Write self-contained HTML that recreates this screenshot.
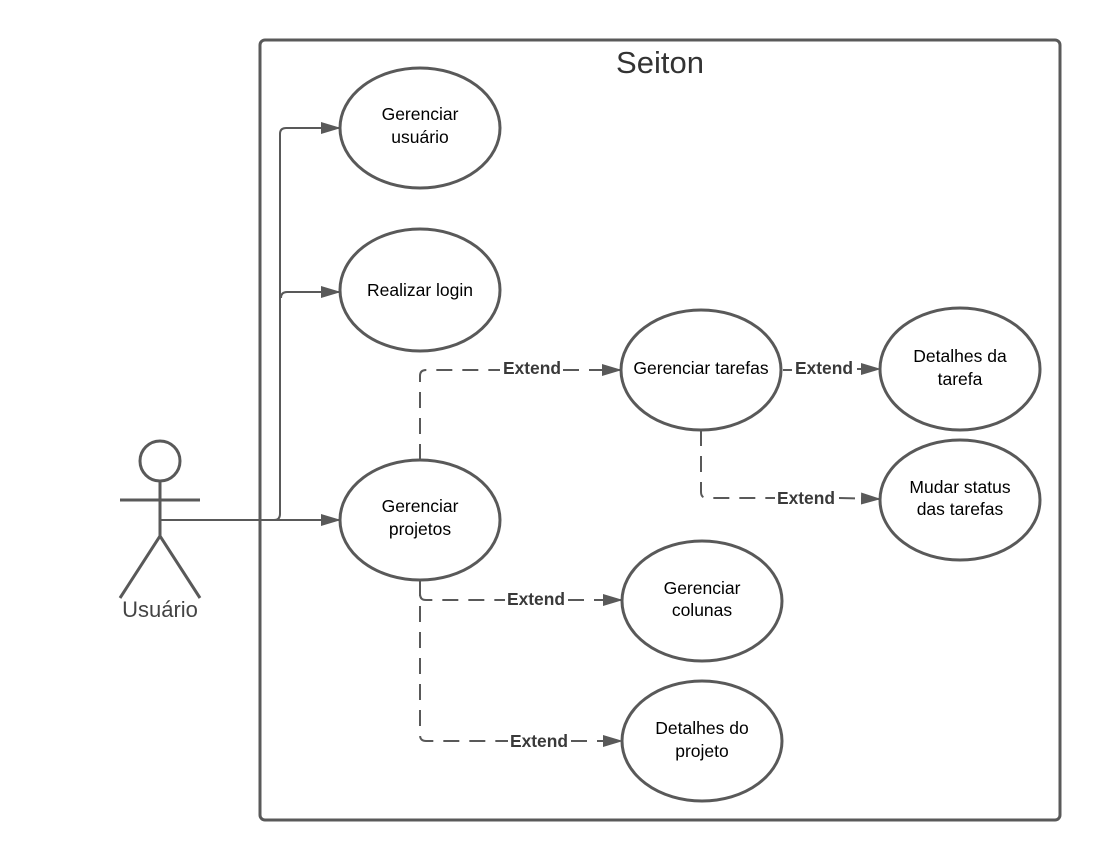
<!DOCTYPE html>
<html><head><meta charset="utf-8"><style>
html,body{margin:0;padding:0;background:#fff;}
svg{display:block;}
text{font-family:"Liberation Sans",Arial,sans-serif;}
</style></head><body>
<svg width="1100" height="860" viewBox="0 0 1100 860" xmlns="http://www.w3.org/2000/svg">
<defs>
<marker id="a" markerWidth="20" markerHeight="12" refX="19" refY="6" orient="auto" markerUnits="userSpaceOnUse">
<path d="M0,0 L20,6 L0,12 Z" fill="#595959"/>
</marker>
</defs>
<g fill="none" stroke="#595959" stroke-width="3">
<rect x="260" y="40" width="800" height="780" rx="5"/>
<ellipse cx="420" cy="128" rx="80" ry="60"/>
<ellipse cx="420" cy="290" rx="80" ry="61"/>
<ellipse cx="420" cy="520" rx="80" ry="60"/>
<ellipse cx="701" cy="370" rx="80" ry="60"/>
<ellipse cx="960" cy="369" rx="80" ry="61"/>
<ellipse cx="960" cy="500" rx="80" ry="60"/>
<ellipse cx="702" cy="601" rx="80" ry="60"/>
<ellipse cx="702" cy="741" rx="80" ry="60"/>
<circle cx="160" cy="461" r="20"/>
<line x1="120" y1="500" x2="200" y2="500"/>
<line x1="160" y1="481" x2="160" y2="536"/>
<polyline points="120,598 160,536 200,598"/>
</g>
<g fill="none" stroke="#595959" stroke-width="2">
<line x1="160" y1="520" x2="340" y2="520" marker-end="url(#a)"/>
<path d="M274,520 Q280,520 280,514 L280,134 Q280,128 286,128 L340,128" marker-end="url(#a)"/>
<path d="M281,298 Q281,292 287,292 L340,292" marker-end="url(#a)"/>
</g>
<g fill="none" stroke="#595959" stroke-width="2" stroke-dasharray="16,10">
<path d="M420,460 L420,376 Q420,370 426,370 L500,370"/>
<path d="M563,370 L621,370" marker-end="url(#a)"/>
<path d="M783,370 L792,370"/>
<path d="M857,369 L880,369" marker-end="url(#a)"/>
<path d="M701,430 L701,492 Q701,498 707,498 L775,498"/>
<path d="M839,498 L880,499" marker-end="url(#a)"/>
<path d="M420,580 L420,735 Q420,741 426,741 L508,741"/>
<path d="M571,741 L622,741" marker-end="url(#a)"/>
<path d="M420,594 Q420,600 426,600 L505,600"/>
<path d="M568,600 L622,600" marker-end="url(#a)"/>
</g>
<g fill="#000" font-size="17.5" text-anchor="middle">
<text x="420" y="120">Gerenciar</text>
<text x="420" y="143">usuário</text>
<text x="420" y="296">Realizar login</text>
<text x="420" y="512">Gerenciar</text>
<text x="420" y="535">projetos</text>
<text x="701" y="374">Gerenciar tarefas</text>
<text x="960" y="362">Detalhes da</text>
<text x="960" y="385">tarefa</text>
<text x="960" y="493">Mudar status</text>
<text x="960" y="515">das tarefas</text>
<text x="702" y="594">Gerenciar</text>
<text x="702" y="616">colunas</text>
<text x="702" y="734">Detalhes do</text>
<text x="702" y="757">projeto</text>
</g>
<g fill="#3a3a3a" font-size="17.4" font-weight="bold" text-anchor="middle">
<text x="532" y="374">Extend</text>
<text x="824" y="374">Extend</text>
<text x="806" y="504">Extend</text>
<text x="536" y="605">Extend</text>
<text x="539" y="747">Extend</text>
</g>
<text x="660" y="73" font-size="31" fill="#333" text-anchor="middle">Seiton</text>
<text x="160" y="617" font-size="22" fill="#444" text-anchor="middle">Usuário</text>
</svg>
</body></html>
